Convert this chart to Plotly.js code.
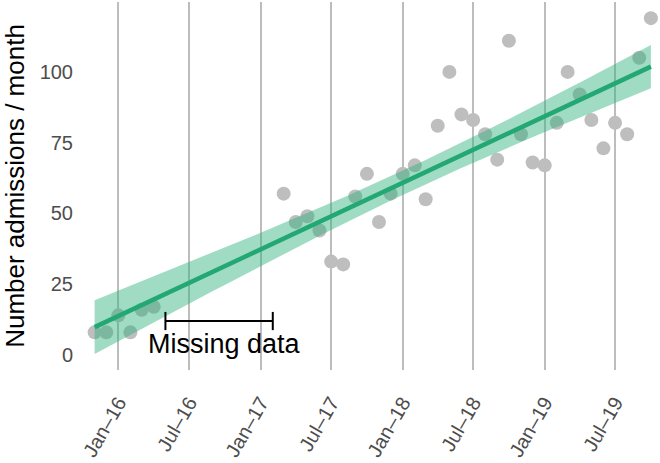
<!DOCTYPE html>
<html>
<head>
<meta charset="utf-8">
<script src="https://cdn.plot.ly/plotly-3.0.1.min.js"></script>
<style>html,body{margin:0;padding:0;background:#fff;}#chart{width:660px;height:463px;}</style>
</head>
<body>
<div id="chart"></div>
<script>
// ---- Data ----
const months = [
  '2015-11-01','2015-12-01','2016-01-01','2016-02-01','2016-03-01','2016-04-01',
  '2017-03-01','2017-04-01','2017-05-01','2017-06-01','2017-07-01','2017-08-01',
  '2017-09-01','2017-10-01','2017-11-01','2017-12-01','2018-01-01','2018-02-01',
  '2018-03-01','2018-04-01','2018-05-01','2018-06-01','2018-07-01','2018-08-01',
  '2018-09-01','2018-10-01','2018-11-01','2018-12-01','2019-01-01','2019-02-01',
  '2019-03-01','2019-04-01','2019-05-01','2019-06-01','2019-07-01','2019-08-01',
  '2019-09-01','2019-10-01'
];
const admissions = [
  8, 8, 14, 8, 16, 17,
  57, 47, 49, 44, 33, 32,
  56, 64, 47, 57, 64, 67,
  55, 81, 100, 85, 83, 78,
  69, 111, 78, 68, 67, 82,
  100, 92, 83, 73, 82, 78,
  105, 119
];
const tickDates = ['2016-01-01','2016-07-01','2017-01-01','2017-07-01','2018-01-01','2018-07-01','2019-01-01','2019-07-01'];
const tickLabels = ['Jan–16','Jul–16','Jan–17','Jul–17','Jan–18','Jul–18','Jan–19','Jul–19'];
const yTicks = [0, 25, 50, 75, 100];
const missingRange = ['2016-05-01', '2017-02-01'];
const missingLevel = [12, 12];
const missingLabel = 'Missing data';
const missingLabelDate = '2016-09-29';
const yTitle = 'Number admissions / month';

// ---- Linear fit with 95% confidence band (as geom_smooth(method = "lm")) ----
const DAY = 86400000;
const xs = months.map(d => new Date(d + 'T00:00:00Z').getTime() / DAY);
const n = xs.length;
const mx = xs.reduce((a, b) => a + b, 0) / n;
const my = admissions.reduce((a, b) => a + b, 0) / n;
let sxx = 0, sxy = 0;
for (let i = 0; i < n; i++) { sxx += (xs[i] - mx) ** 2; sxy += (xs[i] - mx) * (admissions[i] - my); }
const slope = sxy / sxx, icpt = my - slope * mx;
let sse = 0;
for (let i = 0; i < n; i++) { sse += (admissions[i] - (icpt + slope * xs[i])) ** 2; }
const s = Math.sqrt(sse / (n - 2));
const tq = 2.028; // t(0.975, df = 36)
const nGrid = 80;
const gx = [], gFit = [], gLo = [], gHi = [];
const x0 = Math.min(...xs), x1 = Math.max(...xs);
for (let k = 0; k < nGrid; k++) {
  const xv = x0 + (x1 - x0) * k / (nGrid - 1);
  const f = icpt + slope * xv;
  const se = s * Math.sqrt(1 / n + (xv - mx) ** 2 / sxx);
  gx.push(new Date(xv * DAY).toISOString());
  gFit.push(f); gLo.push(f - tq * se); gHi.push(f + tq * se);
}

const font = 'Liberation Sans, Arial, Helvetica, sans-serif';

const traces = [
  {
    x: months, y: admissions, type: 'scatter', mode: 'markers',
    marker: {color: '#bebebe', size: 14, line: {width: 0}},
    hoverinfo: 'skip', showlegend: false
  },
  {
    x: gx.concat(gx.slice().reverse()),
    y: gHi.concat(gLo.slice().reverse()),
    type: 'scatter', mode: 'lines', fill: 'toself',
    fillcolor: 'rgba(42,177,122,0.45)', line: {width: 0},
    hoverinfo: 'skip', showlegend: false
  },
  {
    x: gx, y: gFit, type: 'scatter', mode: 'lines',
    line: {color: '#23a874', width: 4.5},
    hoverinfo: 'skip', showlegend: false
  },
  {
    x: missingRange, y: missingLevel, type: 'scatter', mode: 'lines+markers',
    line: {color: '#000', width: 2},
    marker: {symbol: 'line-ns-open', size: 13, color: '#000', line: {width: 2, color: '#000'}},
    hoverinfo: 'skip', showlegend: false
  }
];

const layout = {
  width: 660, height: 463,
  margin: {l: 74, r: 0, t: 2, b: 93, pad: 0},
  paper_bgcolor: '#fff', plot_bgcolor: '#fff',
  font: {family: font},
  xaxis: {
    type: 'date',
    range: ['2015-09-09', '2019-10-24 10:00'],
    tickmode: 'array', tickvals: tickDates, ticktext: tickLabels,
    tickangle: -60,
    ticklabelstandoff: 16,
    tickfont: {size: 20, color: '#4d4d4d', family: font},
    showgrid: true, gridcolor: '#bdbdbd', gridwidth: 2,
    zeroline: false, showline: false, ticks: '',
    automargin: false
  },
  yaxis: {
    range: [-5.3, 124.7],
    tickmode: 'array', tickvals: yTicks,
    tickfont: {size: 20, color: '#4d4d4d', family: font},
    showgrid: false, zeroline: false, showline: false, ticks: '',
    automargin: false,
    title: {text: yTitle, font: {size: 26, color: '#000', family: font}, standoff: 12}
  },
  annotations: [{
    x: missingLabelDate, y: 4, xref: 'x', yref: 'y',
    text: missingLabel, showarrow: false,
    font: {size: 27, color: '#000', family: font},
    xanchor: 'center', yanchor: 'middle'
  }],
  showlegend: false
};

Plotly.newPlot('chart', traces, layout, {displayModeBar: false, staticPlot: true});
</script>
</body>
</html>
